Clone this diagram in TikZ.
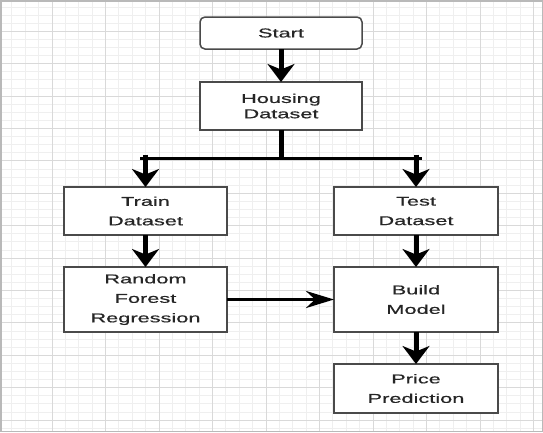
\documentclass[tikz,border=0pt]{standalone}
\usepackage{fontspec}
\setmainfont{Liberation Sans}[FakeStretch=1.7, FakeBold=0.6]
\usetikzlibrary{positioning, arrows.meta, calc}
\definecolor{gridminor}{HTML}{EFEFEF}
\definecolor{gridmajor}{HTML}{D9D9D9}
\definecolor{boxline}{HTML}{4A4A4A}
\definecolor{textgray}{HTML}{262626}

\begin{document}
\begin{tikzpicture}[
    x=1pt, y=-1pt,
    box/.style={draw=boxline, line width=1.5pt, fill=white, rectangle, align=center, inner sep=0pt, outer sep=0pt, text=textgray, font=\fontsize{12.8}{19.5}\selectfont},
    startbox/.style={box, rounded corners=5pt, minimum width=162pt, minimum height=32pt},
    varrow/.style={-{Stealth[length=18pt, width=27pt, inset=5.5pt]}, line width=5pt},
    harrow/.style={-{Stealth[length=28pt, width=17pt, inset=9pt]}, line width=3.5pt},
    vline/.style={line width=5pt},
    hline/.style={line width=3pt}
  ]

  \useasboundingbox (0,0) rectangle (543,432);

  % grid
  \begin{scope}
    \clip (0,0) rectangle (543,432);
    \fill[white] (0,0) rectangle (543,432);
    \foreach \i in {0,...,41} \draw[gridminor, line width=0.8pt] ({-1.5+13.375*\i},0) -- ++(0,432);
    \foreach \j in {0,...,54} \draw[gridminor, line width=0.8pt] (0,{-1.2+8.1*\j}) -- ++(543,0);
    \foreach \i in {0,...,10} \draw[gridmajor, line width=1pt] ({-1.5+53.5*\i},0) -- ++(0,432);
    \foreach \j in {0,...,13} \draw[gridmajor, line width=1pt] (0,{-1.2+32.4*\j}) -- ++(543,0);
  \end{scope}

  % boxes
  \node[startbox] (start) at (281,33) {Start};
  \node[box, minimum width=162pt, minimum height=48pt, below=33pt of start, font=\fontsize{12.8}{15.3}\selectfont] (housing) {Housing\\Dataset};
  \node[box, minimum width=163pt, minimum height=48pt, below left=57pt and -27pt of housing] (train) {Train\\Dataset};
  \node[box, minimum width=164pt, minimum height=48pt, below right=57pt and -28pt of housing] (test) {Test\\Dataset};
  \node[box, minimum width=163pt, minimum height=65pt, below=32pt of train] (forest) {Random\\Forest\\Regression};
  \node[box, minimum width=164pt, minimum height=65pt, below=32pt of test] (build) {Build\\Model};
  \node[box, minimum width=164pt, minimum height=49pt, below=32pt of build] (price) {Price\\Prediction};

  % split point
  \coordinate (split) at ($(housing.south)+(0,28)$);
  \coordinate (lsplit) at (split -| train);
  \coordinate (rsplit) at (split -| test);

  % edges
  \draw[varrow] (start) -- (housing);
  \draw[vline] (housing) -- (split);
  \draw[hline] ($(lsplit)+(-5.5,0)$) -- ($(rsplit)+(6,0)$);
  \draw[varrow] ($(lsplit)+(0,-3.5)$) -- (train);
  \draw[varrow] ($(rsplit)+(0,-3.5)$) -- (test);
  \draw[varrow] (train) -- (forest);
  \draw[varrow] (test) -- (build);
  \draw[varrow] (build) -- (price);
  \draw[harrow] (forest) -- (build);

  % frame
  \draw[gray!55, line width=1.5pt] (0.75,0.75) rectangle (542.25,431.25);

\end{tikzpicture}
\end{document}
